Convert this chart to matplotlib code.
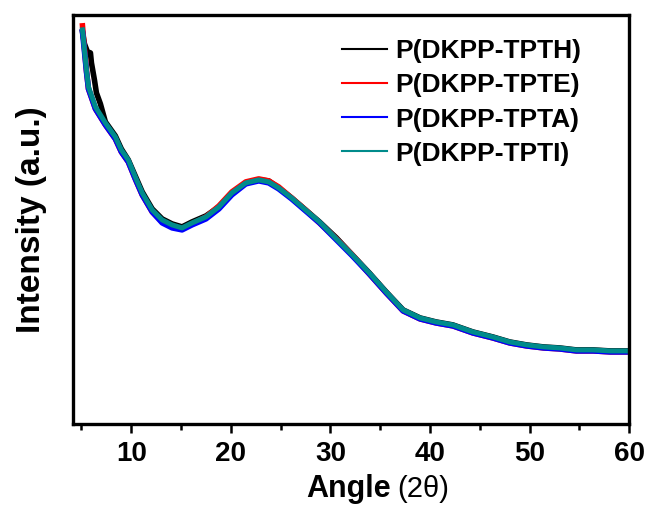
import numpy as np
import matplotlib
matplotlib.use("Agg")
import matplotlib.pyplot as plt

plt.rcParams['font.family'] = ['Liberation Sans', 'DejaVu Sans']
plt.rcParams['font.weight'] = 'bold'

# XRD data (2theta, intensity in a.u.)
angle = [5.1, 5.2, 5.5, 5.7, 6.4, 7.4, 8.4, 9.0, 9.7, 10.4, 11.1, 12.1, 13.1,
         14.1, 15.1, 16.1, 17.5, 18.8, 20.1, 21.5, 22.8, 23.8, 24.8, 26.1,
         27.5, 28.9, 30.6, 32.2, 33.9, 35.6, 37.3, 39.0, 40.6, 42.3, 44.3,
         46.3, 48.0, 49.7, 51.4, 53.0, 54.7, 56.4, 58.1, 59.9]

# black sample has a bump at low angle
angle_h = [5.1, 5.3, 5.6, 5.9, 6.0, 6.3, 6.5, 6.9, 7.4, 8.4, 9.0, 9.7, 10.4,
           11.1, 12.1, 13.1, 14.1, 15.1, 16.1, 17.5, 18.8, 20.1, 21.5, 22.8,
           23.8, 24.8, 26.1, 27.5, 28.9, 30.6, 32.2, 33.9, 35.6, 37.3, 39.0,
           40.6, 42.3, 44.3, 46.3, 48.0, 49.7, 51.4, 53.0, 54.7, 56.4, 58.1, 59.9]
tpth = [392, 380, 372, 371, 361, 344, 331, 320, 302, 288, 275, 264, 248,
        232, 215, 205, 200, 197, 202, 208, 217, 231, 241, 244,
        243, 236, 226, 214, 202, 186, 169, 151, 132, 114, 106,
        102, 99, 92, 87, 82, 79, 77, 76, 74, 74, 73, 73]
tpte = [398, 386, 353, 335, 315, 299, 285, 272, 262, 245, 229, 212, 202,
        197, 195, 200, 207, 218, 232, 242, 245, 243, 237, 226,
        214, 201, 185, 169, 150, 131, 113, 105, 101, 98, 91,
        86, 81, 78, 76, 75, 73, 73, 72, 72]
tpta = [392, 382, 352, 335, 315, 299, 285, 272, 262, 245, 229, 212, 201,
        196, 194, 199, 205, 215, 229, 240, 243, 241, 235, 225,
        213, 201, 184, 168, 150, 131, 113, 105, 101, 98, 91,
        86, 81, 78, 76, 75, 73, 73, 72, 72]
tpti = [394, 384, 354, 337, 317, 301, 287, 274, 264, 247, 231, 214, 204,
        199, 196, 201, 207, 217, 231, 241, 244, 242, 236, 226,
        214, 202, 185, 169, 151, 132, 114, 106, 102, 99, 92,
        87, 82, 79, 77, 76, 74, 74, 73, 73]

names = ['P(DKPP-TPTH)', 'P(DKPP-TPTE)', 'P(DKPP-TPTA)', 'P(DKPP-TPTI)']
colors = ['black', 'red', 'blue', '#008B8B']

fig = plt.figure(figsize=(6.52, 5.12), dpi=100)
ax = fig.add_axes([0.112, 0.172, 0.853, 0.799])

ax.plot(angle_h, tpth, color=colors[0], lw=4.0, label=names[0])
ax.plot(angle, tpte, color=colors[1], lw=4.0, label=names[1])
ax.plot(angle, tpta, color=colors[2], lw=4.0, label=names[2])
ax.plot(angle, tpti, color=colors[3], lw=3.6, label=names[3])

ax.set_xlim(4.15, 60)
ax.set_ylim(0, 409)
ax.set_xticks([10, 20, 30, 40, 50, 60])
ax.set_xticks([5, 15, 25, 35, 45, 55], minor=True)
ax.set_yticks([])
ax.tick_params(axis='x', which='major', direction='out', length=6.5, width=1.8,
               labelsize=20, pad=6)
ax.tick_params(axis='x', which='minor', direction='out', length=4, width=1.8)
for sp in ax.spines.values():
    sp.set_linewidth(2.4)

# x label: bold "Angle" followed by regular "(2θ)"
fig.text(391 / 652, 1 - 489 / 512, 'Angle', fontsize=22, fontweight='bold',
         ha='right', va='center')
fig.text(397 / 652, 1 - 489 / 512, '(2θ)', fontsize=21, fontweight='normal',
         ha='left', va='center')
ax.set_ylabel('Intensity (a.u.)', fontsize=24, fontweight='bold', labelpad=19)

leg = ax.legend(loc='upper right', frameon=False, fontsize=19, handlelength=1.7,
                labelspacing=0.38, handletextpad=0.3, borderaxespad=0.3,
                bbox_to_anchor=(0.947, 0.985))
for line in leg.get_lines():
    line.set_linewidth(1.5)

fig.savefig('out.png', dpi=100)
